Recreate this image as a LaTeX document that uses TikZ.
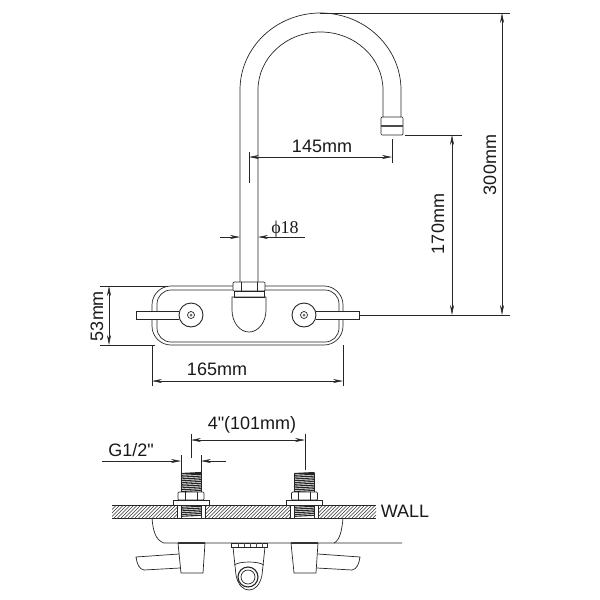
\documentclass[tikz,border=0pt]{standalone}
\usepackage{fontspec}
\newfontfamily\dimfont{Liberation Sans}
\newfontfamily\diafont{Liberation Serif}
\usetikzlibrary{arrows.meta}
\tikzset{
  part/.style={line width=0.7pt, black!85},
  dimline/.style={line width=0.6pt, black!85},
  dimarrow/.style={dimline, {Stealth[length=10pt,width=4pt]}-{Stealth[length=10pt,width=4pt]}},
  onearrow/.style={dimline, -{Stealth[length=10pt,width=4pt]}},
  dimtext/.style={font=\dimfont\fontsize{18}{20}\selectfont, inner sep=0pt, black!90},
}
\begin{document}
\begin{tikzpicture}[x=1pt, y=1pt]
  \useasboundingbox (0, 0) rectangle (600, -600);

  % spout
  \draw[part] (240, -283) -- (240, -90) arc[start angle=180, end angle=0, x radius=80.5pt, y radius=77pt] -- (401, -117);
  \draw[part] (258, -283) -- (258, -90) arc[start angle=180, end angle=0, x radius=62.5pt, y radius=58pt] -- (383, -117);
  \draw[part, rounded corners=1pt] (381, -117) -- (403, -117) -- (403, -135) -- (381, -135) -- cycle;
  \draw[line width=1.3pt, black!70] (381, -126) -- (403, -126);

  % plate
  \draw[part, rounded corners=19pt] (152, -286) rectangle (343, -345);
  \draw[part, rounded corners=14pt] (157, -290) rectangle (339, -342);
  \fill[white] (233, -282) rectangle (265, -297);
  \draw[part, fill=white, rounded corners=1pt] (233, -282) rectangle (265, -291);
  \draw[part] (241, -282) -- (241, -291) (257, -282) -- (257, -291);
  \draw[part, fill=white] (234, -291) rectangle (264, -297);
  \draw[part] (232, -297) -- (232, -310) arc[start angle=180, end angle=360, x radius=17pt, y radius=22pt] -- (266, -297) -- cycle;

  % handles
  \draw[part, fill=white] (179, -311) -- (136, -311) -- (136, -319) -- (179, -319);
  \draw[part, fill=white] (316, -311) -- (359, -311) -- (359, -319) -- (316, -319);
  \foreach \knobx in {191, 304} {
    \draw[line width=0.9pt, black!85, fill=white] (\knobx, -315) circle(12pt);
    \draw[part] (\knobx, -315) circle(3.5pt);
    \fill[black!60] (\knobx, -315) circle(1.5pt);
  }

  % upper dimensions
  \draw[dimline] (320, -13) -- (510, -13);
  \draw[dimline] (360, -315) -- (510, -315);
  \draw[dimline] (405, -135) -- (462, -135);
  \draw[dimarrow] (502, -13) -- (502, -315);
  \draw[dimarrow] (452, -135) -- (452, -315);
  \draw[dimline] (249, -152) -- (249, -183);
  \draw[dimline] (392, -139) -- (392, -163);
  \draw[dimarrow] (249, -157) -- (392, -157);
  \draw[onearrow] (220, -237) -- (240, -237);
  \draw[onearrow] (305, -237) -- (258, -237);
  \draw[dimline] (100, -286) -- (168, -286);
  \draw[dimline] (100, -345) -- (155, -345);
  \draw[dimarrow] (109, -286) -- (109, -345);
  \draw[dimline] (152, -345) -- (152, -386);
  \draw[dimline] (343, -345) -- (343, -386);
  \draw[dimarrow] (152, -381) -- (343, -381);

  \node[dimtext] (len145) at (322, -146) {145mm};
  \node[dimtext, font=\diafont\fontsize{18}{20}\selectfont] (dia18) at (285, -229) {ϕ18};
  \node[dimtext, rotate=90] (high300) at (490, -165) {300mm};
  \node[dimtext, rotate=90] (high170) at (438, -224) {170mm};
  \node[dimtext, rotate=90] (high53) at (97, -316) {53mm};
  \node[dimtext] (len165) at (217, -369) {165mm};

  % wall
  \begin{scope}
    \clip (112, -505) rectangle (376, -518);
    \foreach \hatchx in {100, 103.5, ..., 380} {
      \draw[line width=0.5pt, black!80] (\hatchx, -518) -- (\hatchx + 13, -505);
    }
  \end{scope}
  \draw[part] (112, -505) -- (376, -505);
  \draw[part] (112, -518) -- (376, -518);
  \foreach \studx in {0, 113.5} {
    \begin{scope}[xshift=\studx]
      \fill[white] (177, -504.5) rectangle (205, -517.5);
      \draw[part] (177, -505) -- (177, -518) (205, -505) -- (205, -518);
      \draw[part] (181, -473) rectangle (201, -492);
      \draw[part] (181, -505) rectangle (201, -518);
      \foreach \threadi in {0, ..., 10} {
        \draw[line width=1.1pt, black!85] (181, -473.5 - 1.8*\threadi) -- (201, -472.5 - 1.8*\threadi);
      }
      \foreach \threadi in {0, ..., 6} {
        \draw[line width=1.1pt, black!85] (181, -505.5 - 1.8*\threadi) -- (201, -504.5 - 1.8*\threadi);
      }
      \draw[part, fill=white, rounded corners=1pt] (178, -492) rectangle (204, -500);
      \draw[part] (185, -492) -- (185, -500) (197, -492) -- (197, -500);
      \draw[part, fill=white] (173, -500) rectangle (209, -505);
    \end{scope}
  }

  % plate from above
  \draw[part] (152, -518) .. controls (153, -530) and (155, -540) .. (164, -543) -- (402, -543);
  \draw[part] (343, -518) .. controls (342, -530) and (340, -540) .. (334, -543);

  % levers from above
  \draw[part] (178, -543) -- (181, -573) -- (203, -573) -- (205, -543);
  \draw[line width=1.2pt, black!80] (178, -543) -- (205, -543);
  \draw[part] (179, -554) -- (136, -557) .. controls (137, -564) and (139, -569) .. (144, -570) -- (180, -568);
  \draw[part] (291, -543) -- (294, -573) -- (316, -573) -- (318, -543);
  \draw[line width=1.2pt, black!80] (291, -543) -- (318, -543);
  \draw[part] (318, -554) -- (360, -557) .. controls (359, -564) and (357, -569) .. (352, -570) -- (317, -568);

  % outlet from above
  \draw[part] (231, -543) rectangle (267, -547);
  \foreach \nutx in {238, 244, 250, 256, 262} {
    \draw[line width=0.4pt, black!70] (\nutx, -543) -- (\nutx, -547);
  }
  \draw[part] (233, -547) -- (236, -575) .. controls (238, -585) and (243, -590) .. (249, -590) .. controls (255, -590) and (260, -585) .. (262, -575) -- (265, -547);
  \draw[part] (234, -565) .. controls (240, -561) and (258, -561) .. (264, -565);
  \draw[line width=1.1pt, black!85] (248, -577) circle(10pt);
  \draw[part] (248, -577) circle(7pt);

  % lower dimensions
  \draw[dimline] (181, -455) -- (181, -473);
  \draw[dimline] (201, -455) -- (201, -473);
  \draw[onearrow] (102, -461) -- (181, -461);
  \draw[onearrow] (226, -461) -- (201, -461);
  \draw[dimline] (191, -434) -- (191, -458);
  \draw[dimline] (305, -434) -- (305, -470);
  \draw[dimarrow] (191, -440) -- (305, -440);

  \node[dimtext] (pitch) at (252, -425) {4"(101mm)};
  \node[dimtext] (thread) at (131, -450) {G1/2"};
  \node[dimtext] (wall) at (405, -511) {WALL};
\end{tikzpicture}
\end{document}
